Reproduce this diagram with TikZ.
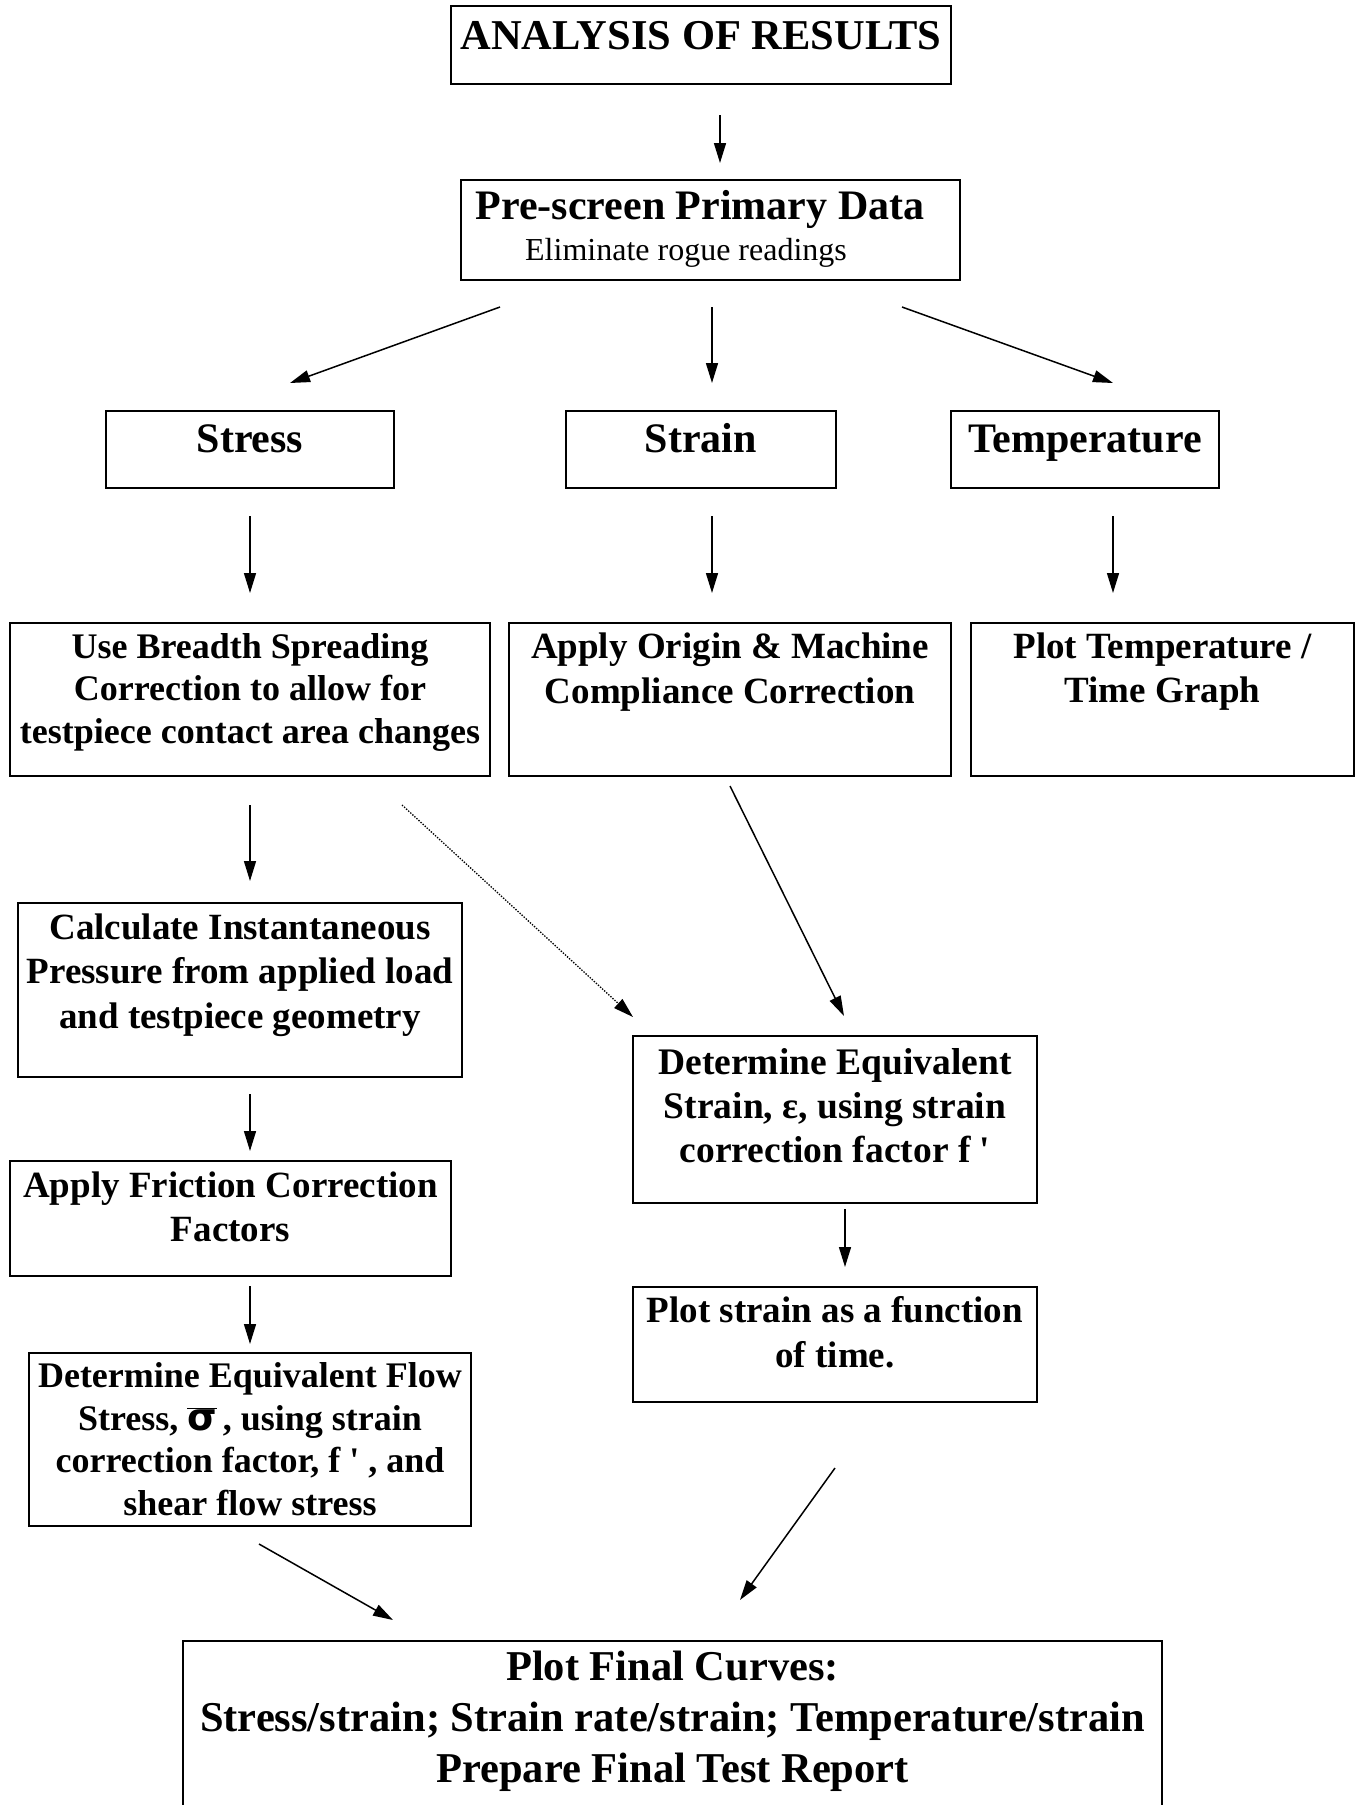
\documentclass[tikz,border=0pt]{standalone}
\usepackage{fontspec}
\newfontfamily\lib{Liberation Serif}
\newfontfamily\symf{DejaVu Sans}
\usetikzlibrary{arrows.meta,calc}
\newcommand{\bt}[6]{\parbox[c][#2][t]{#1}{\lib\bfseries\fontsize{#4}{#5}\selectfont\vspace*{#3}\centering\rule{0pt}{.75em}#6\par}}
\begin{document}
\begin{tikzpicture}[x=1pt,y=-1pt,
  box/.style={draw, line width=1.6pt, inner sep=0pt, outer sep=0pt, anchor=north west},
  arr/.style={line width=1.5pt, -{Triangle[length=20pt,width=12pt]}},
  dotarr/.style={line width=1.3pt, dash pattern=on 1.4pt off 1.4pt, -{Triangle[length=20pt,width=12pt]}}]
\clip (0,0) rectangle (1361,1805);
\fill[white] (0,0) rectangle (1361,1805);
\node[box] (T) at (451,6) {\bt{500pt}{78pt}{12pt}{42.5}{50}{ANALYSIS OF RESULTS}};
\node[box] (P) at (461,180) {\bt{499pt}{100pt}{8pt}{42}{50}{Pre-screen Primary Data\hspace*{21pt}\par\fontsize{32}{41}\selectfont\mdseries Eliminate rogue readings\hspace*{49pt}}};
\node[box] (S) at (106,411) {\bt{288pt}{77pt}{10pt}{42}{50}{Stress}};
\node[box] (E) at (566,411) {\bt{270pt}{77pt}{10pt}{42}{50}{Strain}};
\node[box] (M) at (951,411) {\bt{268pt}{77pt}{10pt}{42}{50}{Temperature}};
\node[box] (B) at (10,623) {\bt{480pt}{153pt}{8pt}{36}{42.5}{Use Breadth Spreading\\Correction to allow for\\testpiece contact area changes}};
\node[box] (O) at (509,623) {\bt{442pt}{153pt}{7.4pt}{37}{45}{Apply Origin \& Machine\\Compliance Correction}};
\node[box] (PT) at (971,623) {\bt{383pt}{153pt}{7.4pt}{37}{44}{Plot Temperature /\\Time Graph}};
\node[box] (C) at (18,903) {\bt{444pt}{174pt}{8.4pt}{37}{44.5}{Calculate Instantaneous\\Pressure from applied load\\and testpiece geometry}};
\node[box] (Q) at (633,1036) {\bt{404pt}{167pt}{10pt}{37.5}{44}{Determine Equivalent\\Strain, ε, using strain\\correction factor f '}};
\node[box] (F) at (10,1161) {\bt{441pt}{115pt}{8.4pt}{37}{44}{Apply Friction Correction\\Factors}};
\node[box] (W) at (29,1353) {\bt{442pt}{173pt}{7.8pt}{36}{42.4}{Determine Equivalent Flow\\Stress, $\overline{\mbox{\symf\fontsize{38}{42}\selectfont σ}}$\,, using strain\\correction factor, f ' , and\\shear flow stress}};
\node[box] (PS) at (633,1287) {\bt{404pt}{115pt}{7.4pt}{37}{45}{Plot strain as a function\\of time.}};
\node[box] (R) at (183,1641) {\bt{979pt}{190pt}{8pt}{42.5}{51}{Plot Final Curves:\\Stress/strain; Strain rate/strain; Temperature/strain\\Prepare Final Test Report}};
% connectors
\draw[arr] ($(T.south)+(19,31)$) -- ($(P.north)+(9.5,-17)$);
\draw[arr] ($(P.south)+(-210.5,27)$) -- ($(S.north)+(40,-28)$);
\draw[arr] ($(P.south)+(1.5,27)$) -- ($(E.north)+(11,-28)$);
\draw[arr] ($(P.south)+(191.5,27)$) -- ($(M.north)+(28,-28)$);
\draw[arr] ($(S.south)+(0,28)$) -- ($(B.north)+(0,-30)$);
\draw[arr] ($(E.south)+(11,28)$) -- ($(O.north)+(-18,-30)$);
\draw[arr] ($(M.south)+(28,28)$) -- ($(PT.north)+(-49.5,-30)$);
\draw[arr] ($(B.south)+(0,29)$) -- ($(C.north)+(10,-22)$);
\draw[dotarr] ($(B.south)+(152,29)$) -- ($(Q.north west)+(0,-19)$);
\draw[arr] ($(O.south)+(0,10)$) -- ($(Q.north)+(9,-20)$);
\draw[arr] ($(C.south)+(10,17)$) -- ($(F.north)+(19.5,-10)$);
\draw[arr] ($(F.south)+(19.5,10)$) -- ($(W.north)+(0,-9)$);
\draw[arr] ($(Q.south)+(10,6)$) -- ($(PS.north)+(10,-20)$);
\draw[arr] ($(PS.south)+(0,66)$) -- ($(R.north)+(67.5,-41)$);
\draw[arr] ($(W.south)+(9,18)$) -- ($(R.north)+(-279.5,-21)$);
\end{tikzpicture}
\end{document}
